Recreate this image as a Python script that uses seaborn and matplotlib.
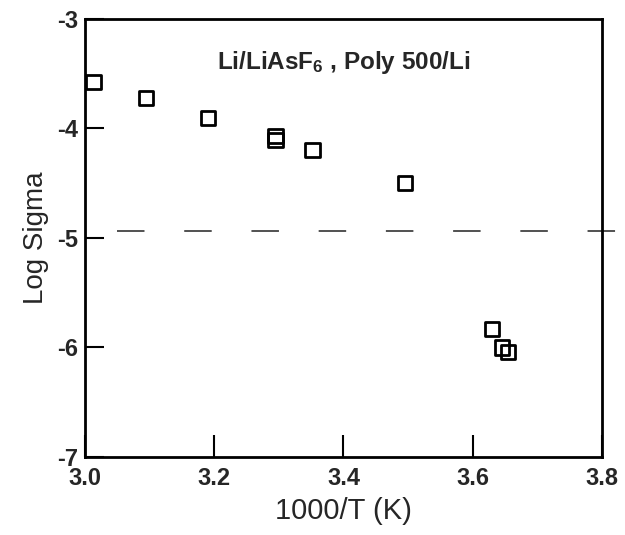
import matplotlib
matplotlib.use("Agg")
import matplotlib.pyplot as plt
import seaborn as sns
import pandas as pd

# Data
inv_T = [3.013, 3.095, 3.190, 3.295, 3.295, 3.352, 3.495, 3.630, 3.645, 3.655]
log_sigma = [-3.575, -3.724, -3.907, -4.066, -4.103, -4.194, -4.497, -5.830, -6.000, -6.040]
ref_level = -4.94
xticks = [3.0, 3.2, 3.4, 3.6, 3.8]
yticks = [-3, -4, -5, -6, -7]
title = "Li/LiAsF$_{6}$ , Poly 500/Li"
xlabel = "1000/T (K)"
ylabel = "Log Sigma"

sns.set_theme(style="white")
plt.rcParams['font.family'] = ['Liberation Sans', 'DejaVu Sans']
plt.rcParams['axes.unicode_minus'] = False
plt.rcParams['mathtext.default'] = 'regular'

df = pd.DataFrame({"x": inv_T, "y": log_sigma})

fig = plt.figure(figsize=(6.25, 5.35), dpi=100)
ax = fig.add_axes([0.136, 0.1458, 0.827, 0.8187])

sns.scatterplot(data=df, x="x", y="y", ax=ax, marker="s", s=105,
                facecolors="none", edgecolor="black", linewidth=2.0,
                legend=False, clip_on=False, zorder=3)

ax.plot([3.049, 3.83], [ref_level, ref_level], color="#222222", lw=1.1,
        linestyle=(0, (18, 26)), clip_on=False, zorder=2)

ax.set_xlim(3.0, 3.8)
ax.set_ylim(-7, -3)
ax.set_xticks(xticks)
ax.set_xticklabels([f"{v:.1f}" for v in xticks])
ax.set_yticks(yticks)
ax.set_yticklabels([f"{v:d}" for v in yticks])

for lab in ax.get_xticklabels() + ax.get_yticklabels():
    lab.set_fontweight("bold")
    lab.set_fontsize(17)

ax.tick_params(axis="x", direction="in", length=16, width=1.5, pad=7, color="black")
ax.tick_params(axis="y", direction="in", length=14, width=1.5, pad=5, color="black")
ax.tick_params(top=False, right=False, bottom=True, left=True)

for sp in ax.spines.values():
    sp.set_visible(True)
    sp.set_color("black")
    sp.set_linewidth(2.0)

ax.set_xlabel(xlabel, fontsize=21, labelpad=5)
ax.set_ylabel(ylabel, fontsize=20, labelpad=6)

ax.text(0.5, 0.885, title, transform=ax.transAxes, ha="center", va="baseline",
        fontsize=17.5, fontweight="bold")

fig.savefig("out.png", dpi=100)
